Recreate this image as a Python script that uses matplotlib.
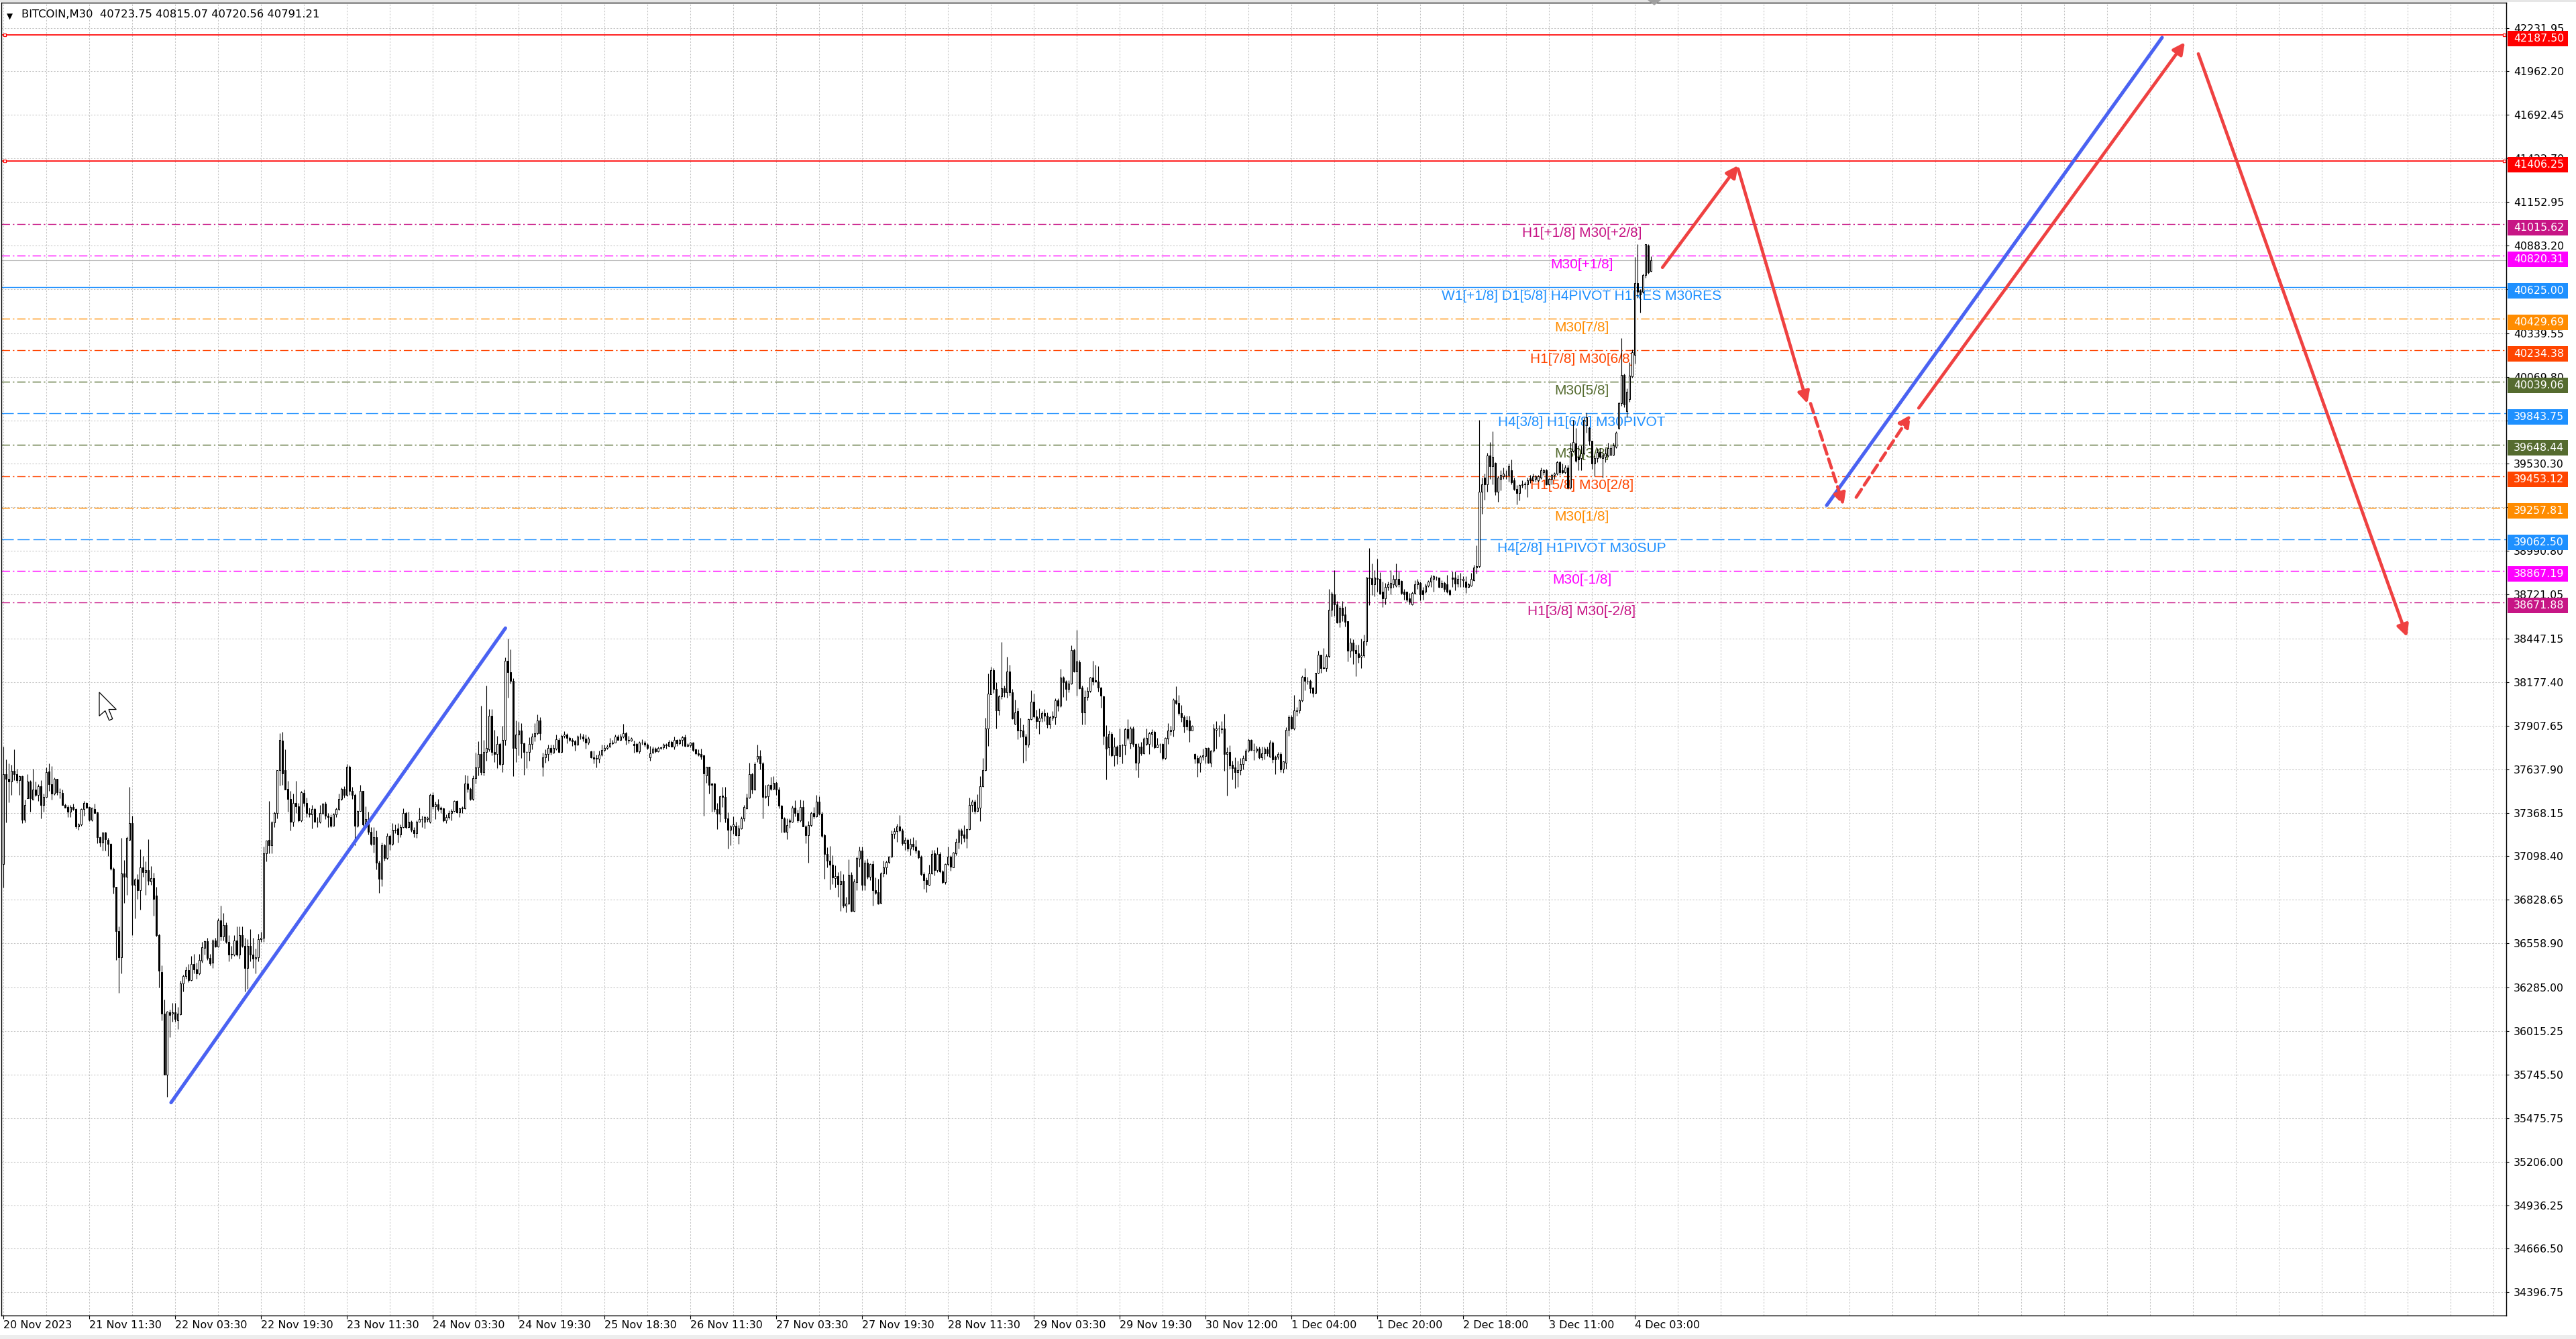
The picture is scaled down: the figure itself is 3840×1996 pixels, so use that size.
import matplotlib
matplotlib.use('Agg')
import matplotlib.pyplot as plt
import matplotlib.transforms as mtransforms
from matplotlib.patches import Rectangle, Polygon
import numpy as np

# ---------------- data (BITCOIN, M30) ----------------
opens = [
37052, 37609, 37577, 37561, 37630, 37609, 37569, 37593, 37326, 37459,
37561, 37448, 37512, 37480, 37533, 37415, 37464, 37625, 37544, 37488,
37577, 37496, 37491, 37418, 37402, 37375, 37402, 37391, 37281, 37294,
37391, 37427, 37402, 37326, 37391, 37370, 37217, 37184, 37246, 37201,
37173, 37023, 36907, 36635, 36474, 36990, 36971, 37201, 37302, 36923,
36955, 36890, 37028, 37000, 37012, 36944, 36963, 36853, 36611, 36382,
36123, 35744, 36131, 36123, 36131, 36083, 36118, 36309, 36357, 36393,
36333, 36430, 36398, 36373, 36451, 36532, 36571, 36467, 36438, 36575,
36538, 36703, 36600, 36672, 36567, 36495, 36490, 36575, 36487, 36608,
36543, 36406, 36543, 36487, 36462, 36474, 36583, 36595, 37117, 37201,
37165, 37310, 37367, 37633, 37816, 37632, 37517, 37454, 37314, 37430,
37406, 37319, 37489, 37430, 37367, 37356, 37391, 37314, 37314, 37367,
37426, 37351, 37340, 37287, 37359, 37391, 37454, 37517, 37478, 37652,
37502, 37478, 37287, 37378, 37502, 37295, 37330, 37251, 37176, 37216,
37060, 36959, 37168, 37089, 37224, 37176, 37264, 37270, 37232, 37280,
37367, 37280, 37311, 37264, 37240, 37314, 37327, 37314, 37327, 37311,
37478, 37406, 37422, 37398, 37394, 37319, 37343, 37367, 37378, 37441,
37372, 37394, 37394, 37549, 37517, 37454, 37584, 37648, 37732, 37621,
37743, 37763, 37970, 37743, 37732, 37795, 37668, 37819, 38311, 38240,
38184, 37771, 37854, 37879, 37800, 37743, 37743, 37795, 37838, 37859,
37938, 37652, 37711, 37732, 37769, 37742, 37765, 37820, 37746, 37843,
37852, 37832, 37820, 37811, 37790, 37838, 37841, 37829, 37804, 37748,
37710, 37707, 37703, 37728, 37755, 37769, 37776, 37797, 37804, 37838,
37820, 37838, 37862, 37820, 37816, 37795, 37793, 37749, 37801, 37804,
37790, 37710, 37742, 37765, 37749, 37769, 37773, 37786, 37783, 37807,
37779, 37820, 37797, 37820, 37834, 37783, 37787, 37801, 37759, 37737,
37730, 37724, 37599, 37652, 37548, 37548, 37392, 37364, 37475, 37466,
37333, 37262, 37285, 37289, 37230, 37271, 37333, 37396, 37461, 37607,
37513, 37704, 37718, 37672, 37465, 37469, 37541, 37516, 37555, 37511,
37410, 37331, 37251, 37322, 37313, 37400, 37368, 37320, 37403, 37285,
37230, 37292, 37368, 37345, 37437, 37364, 37230, 37112, 37071, 37044,
36961, 36975, 36924, 36945, 36793, 36804, 36983, 36758, 36938, 37083,
37132, 36920, 37058, 36972, 37049, 36887, 36875, 36809, 36993, 37031,
37062, 37094, 37238, 37252, 37284, 37260, 37180, 37201, 37145, 37177,
37159, 37132, 37094, 36989, 36952, 36920, 36993, 37118, 37011, 37113,
37003, 36938, 37052, 37094, 37031, 37118, 37187, 37256, 37232, 37214,
37266, 37418, 37436, 37380, 37398, 37533, 37634, 37888, 38104, 38252,
38137, 38003, 38090, 38141, 38114, 38245, 38114, 37920, 37996, 37882,
37878, 37841, 37791, 37948, 38058, 37966, 37934, 37955, 37985, 37968,
37913, 37957, 37961, 38065, 38031, 38204, 38179, 38134, 38169, 38377,
38245, 38303, 38145, 37989, 38086, 38123, 38204, 38190, 38183, 38145,
38090, 37841, 37772, 37855, 37724, 37779, 37721, 37786, 37786, 37887,
37800, 37892, 37795, 37679, 37779, 37738, 37793, 37793, 37855, 37869,
37775, 37790, 37793, 37707, 37827, 37875, 37882, 38066, 38049, 37987,
37962, 37945, 37938, 37878, 37730, 37706, 37679, 37717, 37720, 37768,
37679, 37751, 37882, 37889, 37886, 37892, 37730, 37744, 37665, 37648,
37620, 37634, 37671, 37693, 37754, 37820, 37758, 37754, 37765, 37713,
37737, 37762, 37717, 37803, 37717, 37716, 37730, 37641, 37679, 37883,
37959, 37890, 38000, 38003, 38066, 38211, 38187, 38187, 38142, 38111,
38233, 38349, 38270, 38266, 38339, 38626, 38723, 38658, 38551, 38640,
38595, 38554, 38371, 38422, 38377, 38357, 38335, 38345, 38432, 38827,
38820, 38782, 38820, 38816, 38737, 38697, 38769, 38761, 38785, 38777,
38817, 38805, 38737, 38737, 38697, 38658, 38729, 38785, 38793, 38745,
38737, 38777, 38801, 38817, 38825, 38825, 38769, 38793, 38785, 38745,
38825, 38825, 38789, 38817, 38809, 38801, 38769, 38777, 38809, 38888,
38896, 39357, 39444, 39402, 39580, 39516, 39535, 39357, 39436, 39452,
39460, 39460, 39492, 39429, 39376, 39349, 39397, 39402, 39405, 39440,
39429, 39436, 39429, 39444, 39476, 39492, 39405, 39436, 39460, 39468,
39540, 39492, 39476, 39508, 39381, 39612, 39655, 39572, 39564, 39595,
39770, 39754, 39675, 39532, 39564, 39603, 39564, 39572, 39580, 39588,
39588, 39635, 39754, 39905, 40080, 39858, 39932, 40072, 40207, 40652,
40605, 40597, 40700, 40882, 40723.75]

highs = [
37779, 37698, 37674, 37666, 37762, 37641, 37601, 37601, 37448, 37609,
37569, 37641, 37561, 37544, 37569, 37488, 37649, 37674, 37657, 37585,
37577, 37520, 37512, 37423, 37415, 37415, 37423, 37394, 37302, 37394,
37439, 37431, 37407, 37399, 37423, 37375, 37221, 37246, 37249, 37213,
37181, 37028, 36907, 36664, 37213, 37076, 37221, 37528, 37351, 36963,
36987, 37141, 37100, 37068, 37205, 37036, 36995, 36907, 36616, 36422,
36212, 36139, 36147, 36188, 36188, 36164, 36325, 36365, 36414, 36430,
36479, 36495, 36438, 36495, 36567, 36575, 36592, 36495, 36583, 36592,
36713, 36793, 36745, 36689, 36608, 36543, 36608, 36664, 36664, 36664,
36592, 36583, 36648, 36592, 36527, 36616, 36632, 37157, 37197, 37439,
37318, 37375, 37633, 37859, 37871, 37763, 37565, 37502, 37486, 37565,
37430, 37505, 37510, 37462, 37398, 37415, 37398, 37343, 37415, 37430,
37438, 37367, 37359, 37367, 37398, 37486, 37525, 37533, 37668, 37660,
37530, 37486, 37383, 37541, 37502, 37406, 37375, 37280, 37280, 37256,
37073, 37184, 37176, 37240, 37232, 37303, 37295, 37303, 37295, 37394,
37375, 37375, 37319, 37280, 37319, 37398, 37351, 37351, 37346, 37486,
37494, 37438, 37454, 37406, 37398, 37359, 37383, 37391, 37446, 37446,
37398, 37406, 37605, 37597, 37525, 37597, 37740, 37811, 38033, 37819,
38155, 38009, 38009, 37882, 37843, 37803, 37906, 38330, 38446, 38382,
38200, 37938, 37930, 37922, 37803, 37748, 37835, 37859, 37922, 37978,
37962, 37740, 37763, 37790, 37790, 37790, 37852, 37831, 37852, 37873,
37859, 37838, 37832, 37818, 37848, 37859, 37856, 37852, 37838, 37751,
37751, 37728, 37751, 37790, 37790, 37790, 37832, 37818, 37852, 37852,
37856, 37917, 37870, 37845, 37834, 37815, 37804, 37811, 37825, 37815,
37797, 37783, 37776, 37773, 37776, 37776, 37797, 37797, 37818, 37815,
37838, 37825, 37829, 37845, 37852, 37797, 37806, 37806, 37765, 37762,
37765, 37728, 37655, 37655, 37555, 37555, 37430, 37475, 37527, 37527,
37372, 37292, 37347, 37313, 37292, 37347, 37417, 37486, 37679, 37617,
37682, 37790, 37755, 37682, 37541, 37544, 37589, 37596, 37562, 37527,
37417, 37340, 37333, 37333, 37410, 37444, 37389, 37451, 37444, 37292,
37317, 37375, 37403, 37479, 37472, 37375, 37237, 37154, 37161, 37104,
37042, 36999, 37007, 36986, 36848, 37080, 36999, 36958, 37097, 37159,
37159, 37076, 37083, 37055, 37069, 36966, 36958, 37000, 37069, 37069,
37100, 37256, 37276, 37298, 37353, 37270, 37215, 37208, 37208, 37215,
37201, 37138, 37104, 37000, 36965, 37044, 37138, 37138, 37155, 37124,
37014, 37055, 37159, 37104, 37127, 37208, 37270, 37270, 37291, 37270,
37463, 37450, 37450, 37484, 37595, 37708, 37955, 38231, 38273, 38266,
38176, 38096, 38428, 38155, 38335, 38286, 38134, 38068, 38017, 37955,
37913, 37858, 37952, 38128, 38107, 38007, 38013, 37996, 38010, 37989,
37971, 37996, 38079, 38079, 38262, 38215, 38190, 38190, 38404, 38383,
38501, 38314, 38155, 38128, 38148, 38210, 38311, 38284, 38276, 38148,
38093, 37910, 37876, 37869, 37837, 37786, 37892, 37793, 37893, 37948,
37904, 37904, 37800, 37800, 37807, 37837, 37890, 37869, 37887, 37876,
37832, 37800, 37800, 37837, 37924, 37906, 38076, 38152, 38097, 38035,
37975, 37970, 37970, 37910, 37737, 37724, 37724, 37765, 37772, 37772,
37758, 37917, 37934, 37910, 37934, 37980, 37772, 37786, 37689, 37710,
37689, 37707, 37724, 37765, 37827, 37823, 37800, 37782, 37779, 37779,
37776, 37779, 37820, 37809, 37724, 37744, 37744, 37689, 37897, 37975,
37973, 38097, 38021, 38072, 38219, 38266, 38211, 38194, 38146, 38235,
38374, 38349, 38390, 38353, 38754, 38740, 38872, 38678, 38650, 38678,
38648, 38556, 38450, 38443, 38408, 38408, 38446, 38471, 38830, 39007,
38913, 38872, 38941, 38858, 38801, 38793, 38801, 38872, 38841, 38912,
38864, 38809, 38753, 38737, 38729, 38737, 38809, 38817, 38801, 38769,
38789, 38809, 38841, 38841, 38833, 38825, 38809, 38801, 38841, 38753,
38864, 38861, 38841, 38856, 38833, 38833, 38793, 38856, 38904, 39023,
39802, 39444, 39468, 39599, 39667, 39730, 39540, 39452, 39492, 39508,
39492, 39532, 39556, 39444, 39397, 39405, 39429, 39421, 39444, 39460,
39468, 39460, 39460, 39508, 39500, 39500, 39444, 39468, 39476, 39548,
39548, 39532, 39524, 39524, 39659, 39802, 39754, 39643, 39643, 39818,
39850, 39762, 39675, 39580, 39627, 39627, 39603, 39627, 39659, 39643,
39659, 39730, 39913, 40310, 40088, 39996, 40160, 40239, 40811, 40890,
40613, 40708, 40890, 40890, 40815.07]

lows = [
36906, 37310, 37431, 37480, 37569, 37553, 37480, 37302, 37310, 37456,
37375, 37448, 37472, 37439, 37334, 37375, 37464, 37504, 37448, 37480,
37480, 37456, 37415, 37399, 37343, 37343, 37383, 37270, 37262, 37286,
37351, 37394, 37318, 37318, 37367, 37181, 37157, 37133, 37133, 37100,
37012, 36866, 36454, 36252, 36373, 36810, 36858, 37197, 36608, 36713,
36834, 36769, 36971, 36858, 36923, 36923, 36729, 36600, 36285, 36083,
35744, 35606, 35978, 36075, 36075, 36026, 36115, 36261, 36341, 36317,
36328, 36373, 36341, 36365, 36438, 36487, 36454, 36422, 36406, 36535,
36535, 36575, 36575, 36559, 36446, 36462, 36479, 36479, 36462, 36535,
36261, 36277, 36446, 36406, 36373, 36446, 36567, 36567, 37068, 37117,
37117, 37278, 37334, 37537, 37541, 37510, 37375, 37256, 37283, 37367,
37311, 37314, 37406, 37343, 37343, 37272, 37311, 37280, 37303, 37359,
37327, 37280, 37280, 37287, 37343, 37383, 37446, 37462, 37470, 37478,
37454, 37168, 37280, 37378, 37287, 37287, 37232, 37168, 37121, 37018,
36870, 36915, 37073, 37081, 37137, 37168, 37240, 37184, 37216, 37276,
37272, 37276, 37251, 37216, 37213, 37311, 37280, 37272, 37311, 37303,
37391, 37327, 37378, 37367, 37314, 37303, 37327, 37319, 37375, 37367,
37343, 37367, 37391, 37494, 37446, 37446, 37549, 37597, 37605, 37597,
37692, 37748, 37724, 37684, 37644, 37660, 37621, 37787, 38081, 38168,
37594, 37684, 37724, 37708, 37605, 37644, 37692, 37763, 37811, 37851,
37819, 37594, 37676, 37692, 37728, 37737, 37755, 37742, 37742, 37832,
37797, 37811, 37783, 37751, 37787, 37825, 37811, 37765, 37790, 37707,
37672, 37649, 37679, 37721, 37748, 37760, 37773, 37790, 37801, 37818,
37815, 37832, 37790, 37797, 37811, 37742, 37742, 37738, 37790, 37779,
37762, 37690, 37738, 37742, 37746, 37760, 37760, 37765, 37776, 37776,
37760, 37783, 37790, 37783, 37779, 37776, 37773, 37748, 37728, 37721,
37700, 37350, 37555, 37486, 37375, 37375, 37267, 37313, 37403, 37309,
37147, 37167, 37237, 37223, 37174, 37267, 37317, 37392, 37458, 37486,
37506, 37682, 37638, 37331, 37458, 37410, 37506, 37513, 37479, 37396,
37244, 37244, 37202, 37275, 37309, 37347, 37306, 37313, 37281, 37181,
37057, 37285, 37334, 37340, 37354, 37216, 36960, 37029, 36891, 36924,
36903, 36848, 36758, 36779, 36751, 36800, 36754, 36754, 36889, 37035,
36889, 36887, 36959, 36952, 36793, 36862, 36799, 36806, 36972, 36986,
37055, 37090, 37208, 37187, 37249, 37166, 37138, 37131, 37104, 37138,
37118, 37083, 36979, 36896, 36875, 36917, 36986, 36979, 37000, 36997,
36931, 36924, 37041, 37007, 37028, 37104, 37145, 37173, 37187, 37149,
37263, 37373, 37360, 37373, 37316, 37528, 37629, 37782, 38104, 38109,
37892, 37975, 38072, 38086, 38082, 38093, 37948, 37916, 37823, 37837,
37678, 37692, 37775, 37944, 37957, 37892, 37858, 37930, 37934, 37896,
37892, 37941, 37913, 37996, 38024, 38086, 38065, 38114, 38165, 38238,
38093, 38134, 37913, 37913, 38065, 38114, 38162, 38176, 38120, 38017,
37791, 37574, 37724, 37717, 37658, 37668, 37717, 37675, 37727, 37820,
37765, 37779, 37634, 37588, 37724, 37730, 37786, 37730, 37779, 37765,
37772, 37740, 37696, 37699, 37793, 37848, 37841, 38038, 37973, 37931,
37865, 37883, 37807, 37876, 37675, 37592, 37620, 37696, 37675, 37675,
37654, 37744, 37765, 37841, 37862, 37627, 37475, 37641, 37574, 37519,
37530, 37602, 37638, 37689, 37744, 37751, 37693, 37741, 37703, 37696,
37699, 37720, 37713, 37679, 37606, 37699, 37620, 37616, 37641, 37845,
37887, 37883, 37970, 37986, 38058, 38128, 38166, 38111, 38087, 38108,
38229, 38233, 38260, 38242, 38332, 38584, 38588, 38543, 38519, 38554,
38523, 38305, 38332, 38291, 38215, 38298, 38263, 38332, 38404, 38653,
38717, 38709, 38740, 38720, 38642, 38658, 38745, 38721, 38761, 38769,
38769, 38721, 38690, 38674, 38658, 38655, 38721, 38753, 38682, 38690,
38729, 38769, 38769, 38737, 38809, 38761, 38761, 38737, 38729, 38713,
38769, 38745, 38769, 38769, 38769, 38729, 38761, 38773, 38804, 38849,
38888, 39222, 39306, 39357, 39436, 39405, 39338, 39293, 39365, 39436,
39436, 39421, 39405, 39365, 39278, 39302, 39381, 39373, 39325, 39413,
39421, 39421, 39421, 39436, 39460, 39397, 39397, 39405, 39436, 39460,
39460, 39468, 39468, 39373, 39373, 39603, 39540, 39492, 39492, 39588,
39723, 39643, 39500, 39452, 39540, 39564, 39445, 39540, 39572, 39580,
39580, 39627, 39742, 39889, 39881, 39818, 39913, 40064, 40152, 40557,
40469, 40589, 40684, 40708, 40720.56]

closes = [
37609, 37577, 37561, 37630, 37609, 37569, 37593, 37326, 37415, 37561,
37456, 37512, 37480, 37533, 37415, 37464, 37620, 37544, 37488, 37577,
37496, 37493, 37418, 37399, 37375, 37402, 37391, 37281, 37294, 37391,
37427, 37399, 37326, 37399, 37367, 37217, 37184, 37246, 37205, 37173,
37020, 36907, 36635, 36474, 36990, 36971, 37213, 37302, 36923, 36955,
36890, 37028, 36999, 37012, 36947, 36963, 36834, 36608, 36390, 36123,
35744, 36135, 36115, 36131, 36091, 36123, 36309, 36357, 36393, 36333,
36430, 36398, 36373, 36454, 36535, 36571, 36467, 36433, 36575, 36538,
36703, 36600, 36672, 36567, 36490, 36487, 36575, 36487, 36608, 36543,
36406, 36543, 36487, 36462, 36474, 36583, 36592, 37117, 37197, 37165,
37310, 37367, 37633, 37819, 37613, 37510, 37454, 37314, 37430, 37406,
37319, 37494, 37430, 37367, 37356, 37391, 37314, 37314, 37367, 37426,
37351, 37340, 37287, 37359, 37391, 37454, 37517, 37478, 37652, 37502,
37478, 37287, 37378, 37502, 37295, 37330, 37251, 37176, 37216, 37060,
36959, 37168, 37089, 37224, 37176, 37264, 37256, 37232, 37280, 37367,
37280, 37311, 37264, 37240, 37314, 37327, 37330, 37343, 37335, 37478,
37406, 37422, 37391, 37391, 37319, 37343, 37367, 37378, 37441, 37372,
37394, 37398, 37549, 37517, 37454, 37584, 37648, 37732, 37621, 37743,
37771, 37970, 37743, 37732, 37795, 37668, 37819, 38311, 38240, 38184,
37771, 37854, 37879, 37800, 37743, 37743, 37795, 37838, 37859, 37938,
37859, 37711, 37732, 37771, 37746, 37769, 37825, 37746, 37845, 37852,
37832, 37820, 37811, 37790, 37838, 37841, 37829, 37804, 37829, 37710,
37704, 37703, 37728, 37755, 37769, 37776, 37797, 37804, 37838, 37820,
37838, 37862, 37820, 37816, 37829, 37788, 37749, 37801, 37804, 37790,
37769, 37738, 37765, 37749, 37769, 37773, 37790, 37790, 37807, 37779,
37820, 37797, 37820, 37834, 37783, 37790, 37801, 37755, 37735, 37728,
37714, 37610, 37652, 37541, 37541, 37392, 37364, 37469, 37466, 37333,
37262, 37285, 37294, 37230, 37271, 37333, 37403, 37461, 37607, 37513,
37668, 37718, 37672, 37465, 37469, 37541, 37516, 37552, 37511, 37410,
37331, 37251, 37292, 37313, 37400, 37368, 37320, 37403, 37285, 37230,
37292, 37368, 37345, 37437, 37364, 37226, 37112, 37071, 37046, 36966,
36975, 36924, 36945, 36793, 36804, 36983, 36758, 36942, 37086, 37132,
36920, 37058, 36972, 37049, 36887, 36873, 36806, 36993, 37031, 37062,
37094, 37238, 37252, 37284, 37260, 37180, 37201, 37145, 37177, 37159,
37132, 37090, 36989, 36952, 36924, 36993, 37113, 37011, 37113, 37003,
36938, 37052, 37094, 37035, 37122, 37187, 37256, 37228, 37214, 37266,
37418, 37436, 37380, 37398, 37533, 37634, 37892, 38107, 38252, 38134,
38003, 38090, 38141, 38114, 38245, 38114, 37952, 37989, 37878, 37878,
37841, 37791, 37948, 38058, 37966, 37934, 37955, 37985, 37968, 37913,
37961, 37968, 38065, 38031, 38204, 38176, 38137, 38169, 38377, 38245,
38307, 38141, 37989, 38086, 38123, 38204, 38183, 38183, 38145, 38093,
37844, 37765, 37855, 37724, 37779, 37724, 37786, 37786, 37887, 37830,
37890, 37793, 37679, 37779, 37738, 37827, 37832, 37860, 37869, 37772,
37790, 37790, 37707, 37832, 37878, 37882, 38069, 38049, 37984, 37959,
37903, 37903, 37878, 37906, 37703, 37679, 37717, 37724, 37768, 37679,
37754, 37890, 37892, 37889, 37892, 37730, 37744, 37661, 37643, 37620,
37634, 37671, 37707, 37754, 37820, 37758, 37758, 37765, 37713, 37737,
37765, 37737, 37803, 37699, 37699, 37730, 37638, 37685, 37883, 37959,
37890, 38003, 38003, 38066, 38211, 38187, 38187, 38139, 38111, 38233,
38346, 38266, 38263, 38339, 38626, 38726, 38658, 38547, 38640, 38592,
38551, 38371, 38422, 38374, 38357, 38332, 38345, 38432, 38824, 38820,
38782, 38824, 38816, 38727, 38697, 38769, 38785, 38793, 38817, 38817,
38785, 38729, 38721, 38690, 38674, 38729, 38785, 38801, 38721, 38721,
38777, 38801, 38825, 38833, 38825, 38769, 38793, 38753, 38737, 38721,
38817, 38789, 38817, 38817, 38817, 38769, 38785, 38817, 38888, 38896,
39357, 39405, 39405, 39580, 39516, 39572, 39357, 39444, 39460, 39468,
39460, 39516, 39417, 39373, 39349, 39397, 39405, 39408, 39429, 39429,
39452, 39452, 39452, 39492, 39492, 39405, 39436, 39460, 39468, 39540,
39476, 39476, 39508, 39381, 39612, 39667, 39548, 39556, 39595, 39802,
39818, 39675, 39532, 39564, 39603, 39572, 39580, 39596, 39627, 39627,
39643, 39723, 39905, 40080, 39897, 39977, 40075, 40223, 40652, 40597,
40581, 40700, 40890, 40716, 40791.21]

# x-axis labels (one every 32 bars)
time_labels = ["20 Nov 2023", "21 Nov 11:30", "22 Nov 03:30", "22 Nov 19:30",
               "23 Nov 11:30", "24 Nov 03:30", "24 Nov 19:30", "25 Nov 18:30",
               "26 Nov 11:30", "27 Nov 03:30", "27 Nov 19:30", "28 Nov 11:30",
               "29 Nov 03:30", "29 Nov 19:30", "30 Nov 12:00", "1 Dec 04:00",
               "1 Dec 20:00", "2 Dec 18:00", "3 Dec 11:00", "4 Dec 03:00"]

# price scale tick values
price_ticks = [42231.95, 41962.20, 41692.45, 41422.70, 41152.95, 40883.20, 40613.45,
               40339.55, 40069.80, 39800.05, 39530.30, 39260.55, 38990.80, 38721.05,
               38447.15, 38177.40, 37907.65, 37637.90, 37368.15, 37098.40, 36828.65,
               36558.90, 36285.00, 36015.25, 35745.50, 35475.75, 35206.00, 34936.25,
               34666.50, 34396.75]

# Murrey-math style levels
level_prices = [42187.50, 41406.25, 41015.62, 40820.31, 40625.00, 40429.69, 40234.38,
                40039.06, 39843.75, 39648.44, 39453.12, 39257.81, 39062.50, 38867.19,
                38671.88]
level_labels = ["", "", "H1[+1/8] M30[+2/8]", "M30[+1/8]",
                "W1[+1/8] D1[5/8] H4PIVOT H1RES M30RES", "M30[7/8]", "H1[7/8] M30[6/8]",
                "M30[5/8]", "H4[3/8] H1[6/8] M30PIVOT", "M30[3/8]", "H1[5/8] M30[2/8]",
                "M30[1/8]", "H4[2/8] H1PIVOT M30SUP", "M30[-1/8]", "H1[3/8] M30[-2/8]"]
level_colors = ["#FF0000", "#FF0000", "#C71585", "#FF00FF", "#1E90FF", "#FF8C00",
                "#FF4500", "#556B2F", "#1E90FF", "#556B2F", "#FF4500", "#FF8C00",
                "#1E90FF", "#FF00FF", "#C71585"]
level_kinds = ["solid", "solid", "dashdot", "dashdot", "solid", "dashdot", "dashdot",
               "dashdot", "dashed", "dashdot", "dashdot", "dashdot", "dashed", "dashdot",
               "dashdot"]

# hand-drawn trend lines and projection arrows (bar index, price)
blue_lines = [((62.5, 35572), (187.1, 38512)),
              ((679.5, 39273), (804.5, 42172))]
red_arrows = [((618.3, 40747), (646.5, 41379), "solid"),
              ((646.5, 41358), (672.3, 39904), "solid"),
              ((673.5, 39904), (685.8, 39273), "dashed"),
              ((690.5, 39323), (710.8, 39834), "dashed"),
              ((713.8, 39876), (813.0, 42143), "solid"),
              ((818.0, 42071), (895.8, 38458), "solid")]

n = len(opens)
assert len(highs) == n and len(lows) == n and len(closes) == n

# ---------------- layout ----------------
W, H, DPI = 3840, 1996, 100
AX_L, AX_R, AX_T, AX_B = 2, 3736, 4, 1961
BAR_LEFT, BAR_RIGHT = -0.75, 932.75
Y_LO, Y_HI = 34252.5, 42387.9
LABEL_BAR = 588.25
BOX_SHIFT_PX = 5
px_per_pt = DPI / 72.0
price_per_px = (Y_HI - Y_LO) / (AX_B - AX_T)

fig = plt.figure(figsize=(W / DPI, H / DPI), dpi=DPI, facecolor='white')
ax = fig.add_axes([AX_L / W, 1 - AX_B / H, (AX_R - AX_L) / W, (AX_B - AX_T) / H])
ax.set_facecolor('white')
ax.set_xlim(BAR_LEFT, BAR_RIGHT)
ax.set_ylim(Y_LO, Y_HI)
for s in ax.spines.values():
    s.set_color('black')
    s.set_linewidth(1.0)


def px2fig(pts):
    return [(px / W, 1 - py / H) for px, py in pts]


# grey window strips
fig.patches.append(Rectangle((0, 1 - 3 / H), 1, 3 / H, transform=fig.transFigure,
                             facecolor='#E6E6E6', edgecolor='none', zorder=0))
fig.patches.append(Rectangle((0, 0), 1, 6 / H, transform=fig.transFigure,
                             facecolor='#EDEDED', edgecolor='none', zorder=0))

# grid
grid_style = dict(color='#C4C4C4', lw=0.75, ls=(0, (2.2, 2.2)), zorder=1)
for b in range(0, int(BAR_RIGHT) + 1, 16):
    ax.axvline(b, **grid_style)
for p in price_ticks:
    ax.axhline(p, **grid_style)

# levels
dash_map = {"solid": "-", "dashdot": (0, (9, 3, 1.6, 3)), "dashed": (0, (13, 4))}
for p, lab, col, kind in zip(level_prices, level_labels, level_colors, level_kinds):
    ax.axhline(p, color=col, lw=1.25 if col == "#FF0000" else 1.0,
               ls=dash_map[kind], zorder=2)
    if lab:
        ax.annotate(lab, xy=(LABEL_BAR, p), xytext=(0, -18.7 / px_per_pt),
                    textcoords='offset points', ha='center', va='baseline',
                    fontsize=15, color=col, family=['Liberation Sans', 'DejaVu Sans'],
                    zorder=3)
# end markers of the red horizontal lines
for p, col in zip(level_prices, level_colors):
    if col == "#FF0000":
        ax.plot([0.5, 932.0], [p, p], ls='none', marker='s', ms=3.2, mfc='white',
                mec=col, mew=0.9, zorder=6, clip_on=False)

# bid line
ax.axhline(closes[-1], color='#B4B4B4', lw=0.8, zorder=2)

# candles
x = np.arange(n)
o = np.array(opens, float); h = np.array(highs, float)
l = np.array(lows, float); c = np.array(closes, float)
up = c >= o
ax.vlines(x, l, h, color='black', lw=0.8, zorder=4)
bottom = np.minimum(o, c)
height = np.abs(c - o)
ax.bar(x[up], height[up], bottom=bottom[up], width=0.5, color='white',
       edgecolor='black', linewidth=0.75, zorder=5)
ax.bar(x[~up], height[~up], bottom=bottom[~up], width=0.5, color='black',
       edgecolor='black', linewidth=0.75, zorder=5)

# trend lines and arrows
for (x0, y0), (x1, y1) in blue_lines:
    ax.plot([x0, x1], [y0, y1], color='#4A62F2', lw=3.7, solid_capstyle='round', zorder=7)
for (x0, y0), (x1, y1), kind in red_arrows:
    ax.annotate('', xy=(x1, y1), xytext=(x0, y0),
                arrowprops=dict(arrowstyle='-|>', color='#EF4141', lw=3.4,
                                linestyle='-' if kind == 'solid' else (0, (3, 1.6)),
                                mutation_scale=26, shrinkA=0, shrinkB=0,
                                capstyle='round'),
                zorder=8)

# axes ticks
ax.yaxis.tick_right()
ax.set_yticks(price_ticks)
ax.set_yticklabels([f"{v:.2f}" for v in price_ticks])
ax.tick_params(axis='y', which='major', direction='out', length=3, width=0.8,
               pad=5, labelsize=11.3, colors='black', right=True, left=False)
tick_bars = [32 * i for i in range(len(time_labels))]
ax.set_xticks(tick_bars)
ax.set_xticklabels(time_labels, ha='left')
ax.tick_params(axis='x', which='major', direction='out', length=3.5, width=0.8,
               pad=1.5, labelsize=11.5, colors='black')
for t in ax.get_xticklabels() + ax.get_yticklabels():
    t.set_family('DejaVu Sans')

# coloured price boxes on the scale (drawn slightly below their line, as on screen)
trans = mtransforms.blended_transform_factory(fig.transFigure, ax.transData)
box_h = 23 * price_per_px
shift = BOX_SHIFT_PX * price_per_px
for p, col in zip(level_prices, level_colors):
    yc = p - shift
    ax.add_patch(Rectangle((3738 / W, yc - box_h / 2), 90 / W, box_h, transform=trans,
                           facecolor=col, edgecolor='none', clip_on=False, zorder=20))
    ax.text(3747 / W, yc, f"{p:.2f}", transform=trans, color='white', fontsize=11.3,
            va='center', ha='left', family='DejaVu Sans', clip_on=False, zorder=21)

# header
fig.text(10 / W, 1 - 29 / H, "\u25BC", fontsize=8.5, va='baseline', ha='left',
         family='DejaVu Sans', color='black')
fig.text(32 / W, 1 - 26 / H,
         f"BITCOIN,M30  {opens[-1]:.2f} {highs[-1]:.2f} {lows[-1]:.2f} {closes[-1]:.2f}",
         fontsize=11.8, va='baseline', ha='left', family='DejaVu Sans', color='black')

# chart-shift marker at the top and the mouse pointer left on the chart
fig.patches.append(Polygon(px2fig([(2456, 0), (2476, 0), (2466, 8)]), closed=True,
                           transform=fig.transFigure, facecolor='#A0A0A0',
                           edgecolor='none', zorder=30))
cursor_shape = [(0, 0), (0, 16), (4, 12.5), (6.7, 19), (9, 18), (6.4, 11.6), (11.5, 11.6)]
cx, cy, cs = 148, 1032, 2.2
fig.patches.append(Polygon(px2fig([(cx + u * cs, cy + v * cs) for u, v in cursor_shape]),
                           closed=True, transform=fig.transFigure, facecolor='white',
                           edgecolor='black', lw=0.9, zorder=30))

fig.savefig('out.png', dpi=DPI, facecolor=fig.get_facecolor())
